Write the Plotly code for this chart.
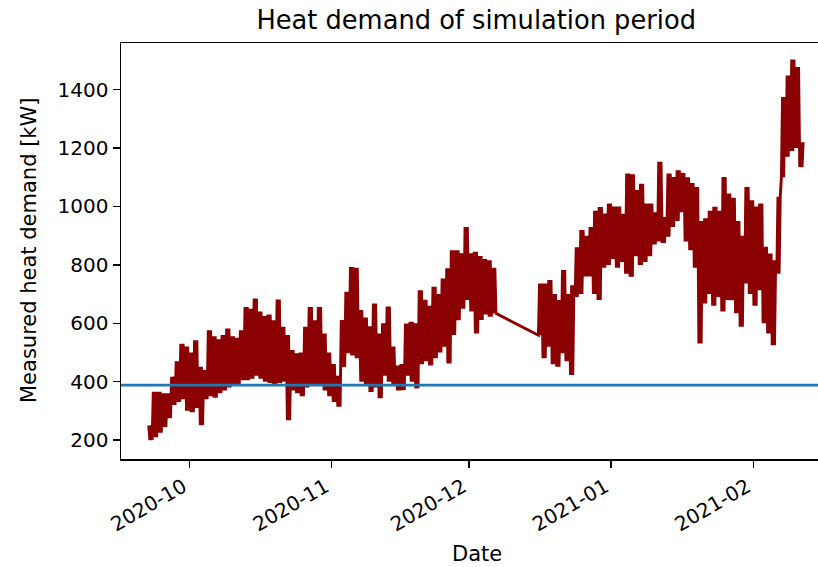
import pandas as pd
import plotly.graph_objects as go

# ---- data (daily high / low of measured heat demand, kW) ----
seg1_start = "2020-09-22"   # first day of first measurement block
seg1_high = [250, 365, 365, 360, 360, 417, 470, 530, 520, 500,
             542, 451, 440, 576, 555, 545, 560, 582, 555, 550,
             576, 656, 650, 685, 640, 625, 630, 610, 681, 588,
             560, 508, 497, 500, 588, 656, 610, 656, 565, 500,
             460, 420, 611, 708, 793, 790, 645, 620, 590, 668,
             565, 600, 657, 520, 455, 460, 599, 605, 600, 713,
             680, 660, 725, 700, 753, 788, 850, 850, 840, 930,
             840, 845, 830, 820, 816, 790]
seg1_low = [200, 210, 225, 245, 275, 320, 330, 340, 300, 295,
            310, 251, 340, 350, 345, 360, 370, 380, 385, 390,
            405, 405, 410, 420, 410, 400, 395, 385, 395, 400,
            268, 370, 360, 350, 380, 390, 385, 390, 370, 350,
            330, 314, 450, 497, 490, 480, 400, 390, 365, 380,
            343, 420, 400, 390, 370, 371, 420, 400, 377, 460,
            470, 455, 480, 500, 520, 462, 560, 610, 650, 680,
            640, 565, 611, 630, 622, 634]

seg2_start = "2020-12-16"   # first day of second measurement block
seg2_low = [559, 480, 520, 460, 451, 497, 470, 423, 690, 700,
            760, 760, 700, 680, 790, 800, 820, 790, 810, 770,
            759, 830, 800, 810, 830, 870, 880, 875, 896, 930,
            950, 980, 880, 850, 790, 531, 668, 700, 660, 690,
            640, 680, 679, 634, 588, 736, 700, 660, 713, 600,
            565, 525, 770, 1100, 1170, 1190, 1200, 1135]
seg2_high = [736, 736, 748, 700, 680, 782, 700, 730, 860, 919,
             900, 930, 985, 998, 976, 1010, 1000, 1000, 975, 1113,
             1110, 1056, 1078, 1010, 1010, 980, 1153, 964, 1113, 1101,
             1124, 1115, 1100, 1080, 1067, 950, 960, 985, 999, 985,
             1101, 1044, 1030, 950, 900, 1067, 1021, 1000, 1010, 862,
             839, 816, 1033, 1375, 1449, 1503, 1478, 1220]

threshold = 388  # horizontal reference level (kW)

month_ticks = ["2020-10-01", "2020-11-01", "2020-12-01", "2021-01-01", "2021-02-01"]
month_labels = ["2020-10", "2020-11", "2020-12", "2021-01", "2021-02"]
y_ticks = [200, 400, 600, 800, 1000, 1200, 1400]

x_range = ["2020-09-16 02:00", "2021-02-15 02:40"]
y_range = [135, 1560]

# ---- build the 6-hourly series (each day swings between its high and low) ----
def day_pattern(first, second):
    out = []
    for p, q in zip(first, second):
        out += [p, q, p, q]
    return out

v1 = day_pattern(seg1_high, seg1_low)
t1 = pd.date_range(pd.Timestamp(seg1_start) + pd.Timedelta(hours=3), periods=len(v1), freq="6h")
v2 = day_pattern(seg2_low, seg2_high)
t2 = pd.date_range(pd.Timestamp(seg2_start) + pd.Timedelta(hours=3), periods=len(v2), freq="6h")

times = list(t1) + list(t2)
values = v1 + v2

fig = go.Figure()
fig.add_trace(go.Scatter(x=times, y=values, mode="lines",
                         line=dict(color="#8B0000", width=2.9), showlegend=False,
                         hoverinfo="skip"))
fig.add_trace(go.Scatter(x=x_range, y=[threshold, threshold], mode="lines",
                         line=dict(color="#1f77b4", width=2.9), showlegend=False,
                         hoverinfo="skip"))

W, H = 818, 567
font = "DejaVu Sans"
fig.update_layout(
    width=W, height=H,
    margin=dict(l=121, r=0, t=43, b=108),
    plot_bgcolor="white", paper_bgcolor="white",
    font=dict(family=font, size=20, color="black"),
    title=dict(text="Heat demand of simulation period",
               font=dict(family=font, size=25.7, color="black"),
               x=476.2 / W, xref="container", xanchor="center",
               y=1 - 19.7 / H, yref="container", yanchor="middle"),
    showlegend=False,
)
fig.update_xaxes(range=x_range, tickvals=month_ticks, ticktext=month_labels,
                 tickangle=-30, ticklabelshift=-6, showgrid=False, zeroline=False,
                 showline=True, linecolor="black", linewidth=1.5, mirror=True,
                 ticks="outside", ticklen=7, tickwidth=1.5, tickcolor="black",
                 tickfont=dict(family=font, size=20, color="black"))
fig.update_yaxes(range=y_range, tickvals=y_ticks,
                 showgrid=False, zeroline=False,
                 showline=True, linecolor="black", linewidth=1.5, mirror=False,
                 ticks="outside", ticklen=7, tickwidth=1.5, tickcolor="black",
                 tickfont=dict(family=font, size=20, color="black"))

fig.add_annotation(text="Measured heat demand [kW]", textangle=-90,
                   xref="paper", yref="paper", x=(29 - 121) / 697, y=0.5,
                   xanchor="center", yanchor="middle", showarrow=False,
                   font=dict(family=font, size=21, color="black"))
fig.add_annotation(text="Date", xref="paper", yref="paper",
                   x=(476.7 - 121) / 697, y=(459 - 554.5) / 416.3,
                   xanchor="center", yanchor="middle", showarrow=False,
                   font=dict(family=font, size=21, color="black"))

# remove the default 8 px page margin so the figure fills the window exactly
fig.write_html("out.html",
               config={"displayModeBar": False, "staticPlot": True},
               post_script="document.body.style.margin='0px';document.body.style.overflow='hidden';")
